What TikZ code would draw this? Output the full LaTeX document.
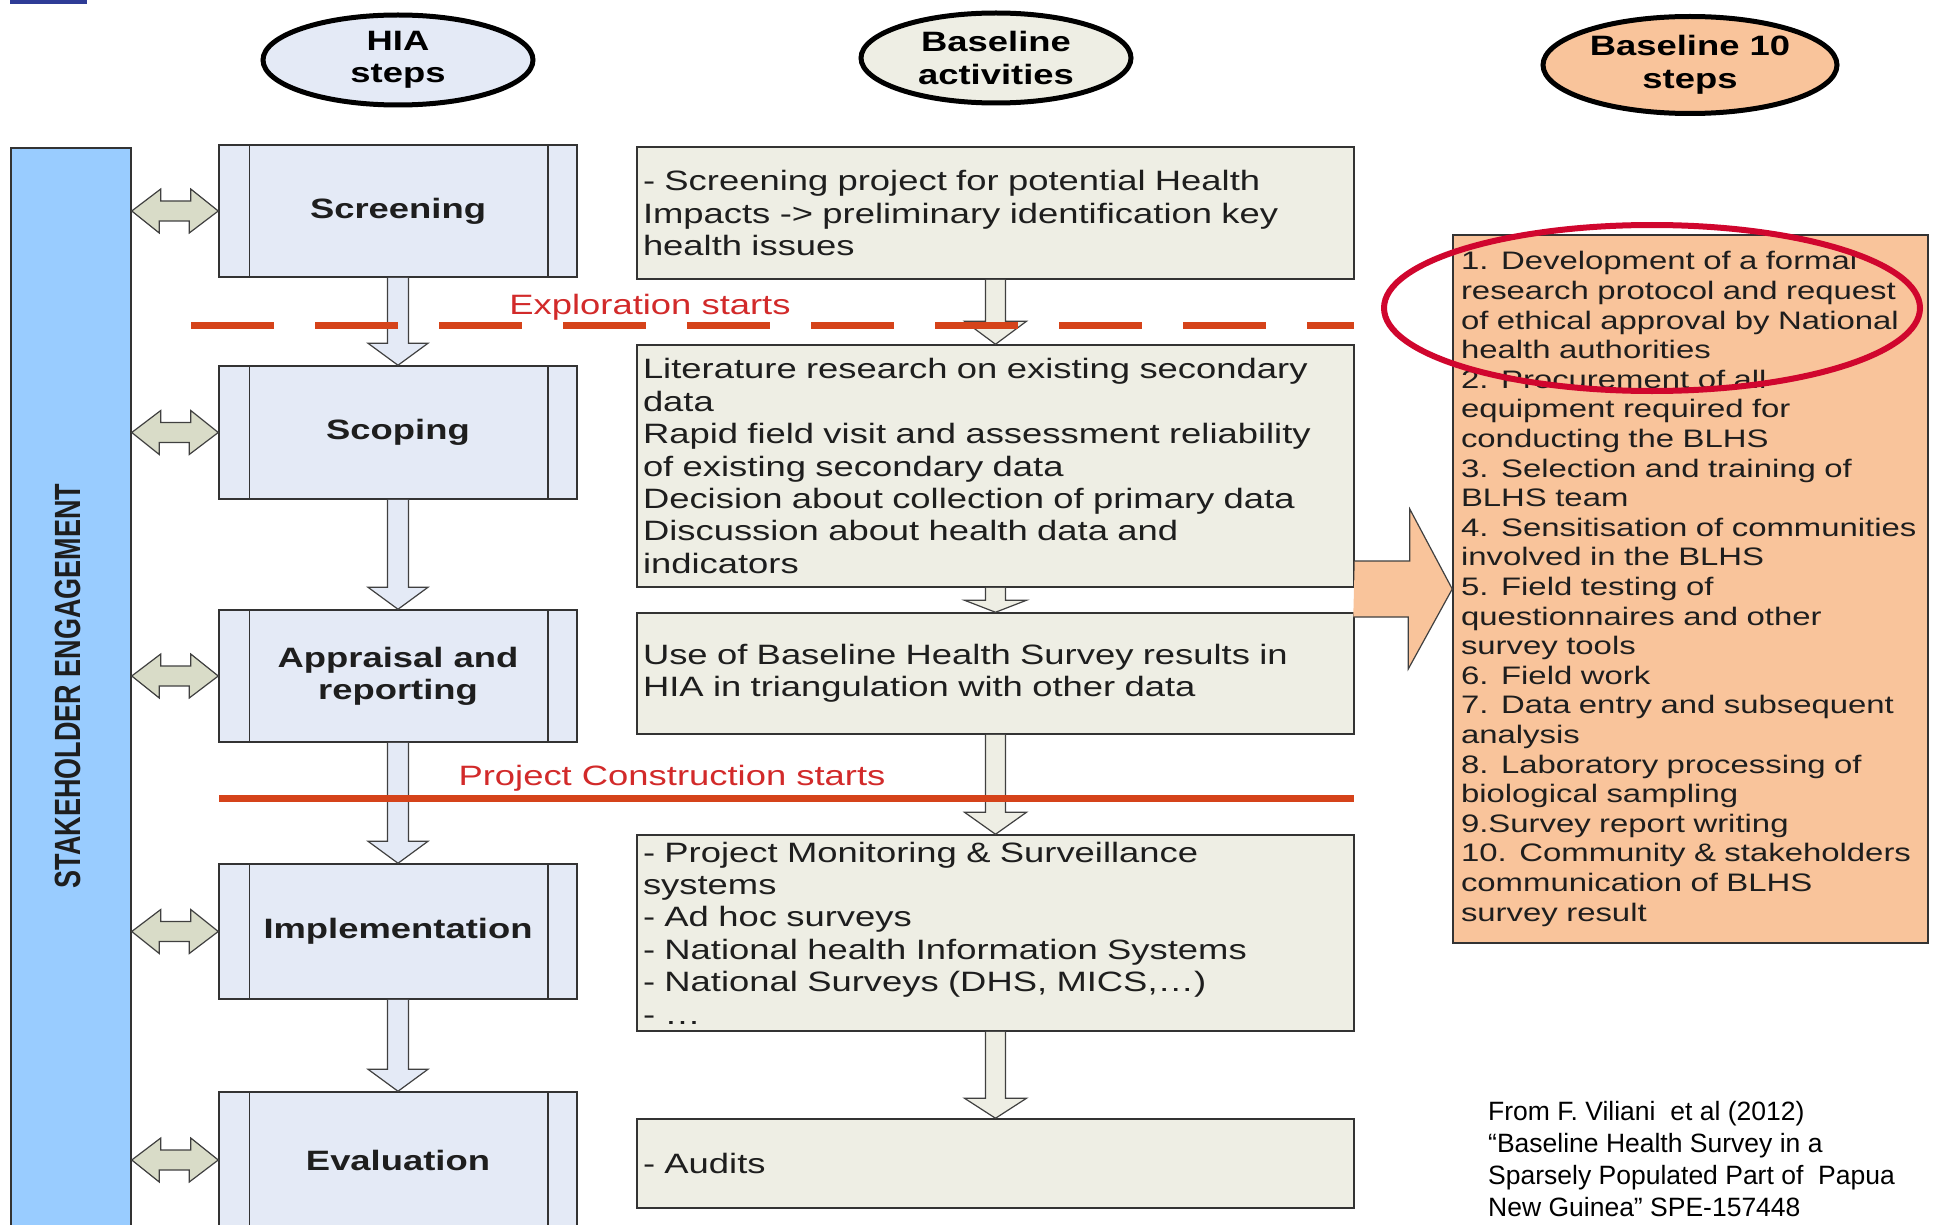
\documentclass[tikz,border=0pt]{standalone}
\usepackage{fontspec}
\setmainfont{Liberation Sans}[FakeStretch=1.3]
\newfontfamily\plainfont{Liberation Sans}
\usetikzlibrary{calc}
\usetikzlibrary{shapes.geometric}

\definecolor{barblue}{HTML}{99CCFF}
\definecolor{stepfill}{HTML}{E4EAF6}
\definecolor{actfill}{HTML}{EEEEE4}
\definecolor{linkfill}{HTML}{D9DCC8}
\definecolor{peach}{HTML}{F9C49B}
\definecolor{redline}{HTML}{D5431A}
\definecolor{redtext}{HTML}{D22A2A}
\definecolor{ringred}{HTML}{D0062E}
\definecolor{inkgray}{HTML}{1E1E1E}
\definecolor{slideblue}{HTML}{2E3C96}

\begin{document}
\begin{tikzpicture}[x=1pt, y=-1pt,
    bodytext/.style={font=\fontsize{28}{32.4}\selectfont, text=inkgray},
    colhead/.style={ellipse, draw=black, line width=5pt, inner sep=0pt, align=center, text=black, font=\fontsize{28}{32.5}\selectfont\bfseries},
    hiastep/.style={draw=black!80, fill=stepfill, line width=1.5pt, minimum width=358pt, align=center, text=inkgray, font=\fontsize{28}{32}\selectfont\bfseries},
    activity/.style={draw=black!80, fill=actfill, line width=1.5pt, text width=705pt, inner xsep=6pt, align=left, bodytext},
    fatarrow/.style={draw=black!75, line width=1.2pt, line join=miter},
  ]
    \useasboundingbox (0,0) rectangle (1933,1225);
    \clip (0,0) rectangle (1933,1225);
    \fill[white] (0,0) rectangle (1933,1225);
    \fill[slideblue] (10,0) rectangle (87,4);

    % column heads
    \node[colhead, fill=stepfill, minimum width=270pt, minimum height=90pt] (hiahead) at (398,60) {HIA\\steps};
    \node[colhead, fill=actfill, minimum width=270pt, minimum height=90pt] (acthead) at (996,58) {Baseline\\activities};
    \node[colhead, fill=peach, minimum width=294pt, minimum height=97pt] (tenhead) at (1690,65) {Baseline 10\\steps};

    % stakeholder bar
    \node[draw=black!80, fill=barblue, line width=1.5pt, minimum width=120pt, minimum height=1092pt, inner sep=0pt] (bar) at (71,694) {};
    \node[rotate=90, yscale=1.35, text=inkgray, font=\plainfont\bfseries\fontsize{27}{30}\selectfont] (stake) at (68,686) {STAKEHOLDER ENGAGEMENT};

    % HIA steps
    \node[hiastep, minimum height=132pt] (s1) at (398,211) {Screening};
    \node[hiastep, minimum height=133pt] (s2) at (398,432.5) {Scoping};
    \node[hiastep, minimum height=132pt] (s3) at (398,676) {Appraisal and\\reporting};
    \node[hiastep, minimum height=135pt] (s4) at (398,931.5) {Implementation};
    \node[hiastep, minimum height=136pt] (s5) at (398,1160) {Evaluation};
    \foreach \i in {1,...,5} {
      \draw[black!80, line width=1.5pt] ([xshift=31pt]s\i.north west) -- ([xshift=31pt]s\i.south west);
      \draw[black!80, line width=1.5pt] ([xshift=-30pt]s\i.north east) -- ([xshift=-30pt]s\i.south east);
    }

    % baseline activities
    \node[activity, minimum height=132pt] (b1) at (995.5,213) {- Screening project for potential Health\\Impacts -> preliminary identification key\\health issues};
    \node[activity, minimum height=242pt] (b2) at (995.5,466) {Literature research on existing secondary\\data\\Rapid field visit and assessment reliability\\of existing secondary data\\Decision about collection of primary data\\Discussion about health data and\\indicators};
    \node[activity, minimum height=121pt] (b3) at (995.5,673.5) {Use of Baseline Health Survey results in\\HIA in triangulation with other data};
    \node[activity, minimum height=196pt] (b4) at (995.5,933) {- Project Monitoring \& Surveillance\\systems\\- Ad hoc surveys\\- National health Information Systems\\- National Surveys (DHS, MICS,\dots)\\- \dots};
    \node[activity, minimum height=89pt] (b5) at (995.5,1163.5) {- Audits};

    % baseline 10 steps
    \node[draw=black!80, fill=peach, line width=1.5pt, text width=459pt, inner xsep=8pt, minimum height=708pt, align=left, text=inkgray, font=\fontsize{25.3}{29.6}\selectfont] (steps) at (1690.5,589) {1. Development of a formal\\research protocol and request\\of ethical approval by National\\health authorities\\2. Procurement of all\\equipment required for\\conducting the BLHS\\3. Selection and training of\\BLHS team\\4. Sensitisation of communities\\involved in the BLHS\\5. Field testing of\\questionnaires and other\\survey tools\\6. Field work\\7. Data entry and subsequent\\analysis\\8. Laboratory processing of\\biological sampling\\9.Survey report writing\\10. Community \& stakeholders\\communication of BLHS\\survey result};

    % links to stakeholder bar
    \foreach \i in {1,...,5}
      \draw[fatarrow, fill=linkfill] (bar.east |- s\i.west) -- ++(29,-22) -- ++(0,12) -- ++(30,0) -- ++(0,-12) -- (s\i.west) -- ++(-29,22) -- ++(0,-12) -- ++(-30,0) -- ++(0,12) -- cycle;

    % flow arrows
    \foreach \a/\b in {1/2,2/3,3/4,4/5}
      \draw[fatarrow, fill=stepfill] ($(s\a.south)+(-10.5,0)$) -- ($(s\b.north)+(-10.5,-22)$) -- ++(-19.5,0) -- (s\b.north) -- ++(30,-22) -- ++(-19.5,0) -- ($(s\a.south)+(10.5,0)$);
    \foreach \a/\b/\h in {1/2/23,2/3/12,3/4/22,4/5/20}
      \draw[fatarrow, fill=actfill] ($(b\a.south)+(-10,0)$) -- ($(b\b.north)+(-10,-\h)$) -- ++(-21,0) -- (b\b.north) -- ++(31,-\h) -- ++(-21,0) -- ($(b\a.south)+(10,0)$);
    \draw[fatarrow, fill=peach] ($(b2.east |- steps.west)+(0,-28)$) -- ++(55,0) -- ++(0,-52) -- (steps.west) -- ++(-44,80) -- ++(0,-52) -- ++(-55,0);

    % milestones
    \draw[redline, line width=7pt, dash pattern=on 83pt off 41pt] (191,325) -- (1354,325);
    \draw[redline, line width=7pt] (219,798) -- (1354,798);
    \node[bodytext, text=redtext] (explore) at (650,307) {Exploration starts};
    \node[bodytext, text=redtext] (construct) at (672,778) {Project Construction starts};

    \draw[ringred, line width=6pt] (1652,308) ellipse [x radius=268, y radius=83];

    \node[anchor=west, inner sep=0pt, align=left, text=black, font=\plainfont\fontsize{26.5}{32}\selectfont] (source) at (1488,1159) {From F. Viliani\ \ et al (2012)\\“Baseline Health Survey in a\\Sparsely Populated Part of\ \ Papua\\New Guinea” SPE-157448};
\end{tikzpicture}
\end{document}
